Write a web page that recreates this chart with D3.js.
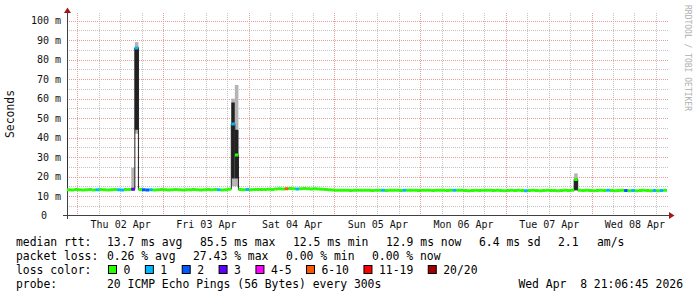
<!DOCTYPE html>
<html>
<head>
<meta charset="utf-8">
<script src="https://cdn.jsdelivr.net/npm/d3@7"></script>
<style>
  body { margin: 0; background: #fff; }
  svg { display: block; }
  text { font-family: "DejaVu Sans Mono", monospace; }
</style>
</head>
<body>
<svg id="chart"></svg>
<script>
// one week window, ending at the time the graph was made
const startTime = new Date("2026-04-01T21:06:45Z");
const endTime = new Date("2026-04-08T21:06:45Z");
// hourly consolidated rows; row 0 ends right where the window starts
const dataStart = new Date("2026-04-01T20:06:45Z");

// median rtt for each hour, ms
const medianMs = [
  55.0, 13.2, 13.1, 13.3, 13.2, 13.1, 13.2, 13.3, 13.1, 13.2,   // 0-9
  13.3, 13.2, 13.1, 13.2, 13.3, 13.2, 13.1, 13.3, 13.4, 13.5,   // 10-19
  86.0, 13.4, 13.2, 13.1, 13.2, 13.1, 13.2, 13.3, 13.2, 13.1,   // 20-29
  13.2, 13.3, 13.2, 13.1, 13.2, 13.2, 13.3, 13.2, 13.1, 13.2,   // 30-39
  13.3, 13.2, 13.3, 13.2, 13.1, 13.2, 13.5, 47.0, 31.0, 13.3,   // 40-49
  13.2, 13.3, 13.2, 13.4, 13.3, 13.4, 13.3, 13.5, 13.4, 13.6,   // 50-59
  13.7, 13.6, 13.7, 13.8, 13.7, 13.6, 13.7, 13.8, 13.7, 13.6,   // 60-69
  13.7, 13.6, 13.5, 13.4, 13.2, 13.1, 13.0, 12.9, 13.0, 12.9,   // 70-79
  12.8, 12.9, 13.0, 12.9, 12.9, 13.0, 12.8, 12.9, 13.0, 12.9,   // 80-89
  12.8, 12.9, 13.0, 12.9, 12.8, 12.9, 13.0, 12.9, 12.9, 12.8,   // 90-99
  12.9, 13.0, 12.9, 12.8, 12.9, 13.0, 12.9, 12.8, 12.9, 12.9,   // 100-109
  13.0, 12.9, 12.8, 12.7, 12.8, 12.9, 12.8, 12.9, 13.0, 12.9,   // 110-119
  12.8, 12.9, 12.8, 12.7, 12.8, 12.9, 12.8, 12.9, 12.8, 12.7,   // 120-129
  12.8, 12.9, 12.8, 12.7, 12.8, 12.9, 12.8, 12.8, 12.7, 12.8,   // 130-139
  12.9, 12.8, 12.9, 18.5, 12.9, 12.8, 12.9, 12.8, 12.7, 12.8,   // 140-149
  12.9, 12.8, 12.9, 12.8, 12.7, 12.8, 12.9, 12.8, 12.7, 12.8,   // 150-159
  12.7, 12.8, 12.9, 12.8, 12.7, 12.8, 12.7, 12.8, 12.9          // 160-168
];

// hours with lost pings: [row, pings lost out of 20]
const lossHours = [
  [0, 1], [9, 0.4], [15, 0.5], [16, 0.3], [19, 2.5], [20, 0.8],
  [22, 1.5], [23, 1.6], [24, 0.4], [43, 0.3], [47, 0.9], [51, 0.4],
  [62, 5.5], [65, 0.3], [89, 0.3], [95, 0.4], [109, 0.3], [129, 0.3],
  [152, 0.3], [157, 1.5], [159, 0.3], [165, 0.3], [167, 0.3]
];

// smoke where the pings spread out: [row, outer lo, outer hi, inner lo, inner hi], ms
const smokeRows = [
  [0, 13, 61, 20, 57],
  [19, 13, 24.5, 13, 14],
  [20, 42, 89, 44, 86.5],
  [47, 15, 60, 19, 58],
  [48, 15, 67, 19, 44],
  [143, 12.8, 21.6, 13, 19]
];

const lossLabels = ["0", "1", "2", "3", "4-5", "6-10", "11-19", "20/20"];
const lossUpTo = [0, 1, 2, 3, 5, 10, 19, 20];
const lossColors = ["#26ff00", "#00b8ff", "#0059ff", "#5e00ff", "#ff00ff", "#ff5500", "#ff0000", "#a00000"];

const yTicks = [0, 0.01, 0.02, 0.03, 0.04, 0.05, 0.06, 0.07, 0.08, 0.09, 0.1];
const yMinor = [0.005, 0.015, 0.025, 0.035, 0.045, 0.055, 0.065, 0.075, 0.085, 0.095];

const rttLegend = ["median rtt:", "13.7 ms avg", "85.5 ms max", "12.5 ms min", "12.9 ms now", "6.4 ms sd", "2.1", "am/s"];
const lossLegend = ["packet loss:", "0.26 % avg", "27.43 % max", "0.00 % min", "0.00 % now"];
const probeLegend = ["probe:", "20 ICMP Echo Pings (56 Bytes) every 300s"];
const stampText = "Wed Apr  8 21:06:45 2026";

const width = 697, height = 297;
const plotLeft = 67, plotRight = 667, plotBottom = 215.5, plotTop = 13;

const svg = d3.select("#chart").attr("width", width).attr("height", height);
svg.append("rect").attr("width", width).attr("height", height).attr("fill", "#fff");

const x = d3.scaleUtc().domain([startTime, endTime]).range([plotLeft, plotRight]);
const y = d3.scaleLinear().domain([0, 0.1]).range([plotBottom, 20.7]);

const px = v => Math.round(v) + 0.5;

// grid
const grid = svg.append("g");
const sixHours = d3.utcHour.every(6).range(startTime, endTime).filter(d => d.getUTCHours() !== 0);
const midnights = d3.utcDay.range(startTime, endTime);

grid.selectAll(".hminor").data(yMinor).enter().append("line")
  .attr("x1", plotLeft).attr("x2", plotRight + 1)
  .attr("y1", d => px(y(d))).attr("y2", d => px(y(d)))
  .attr("stroke", "#c4c4c4").attr("stroke-dasharray", "1,1");
grid.selectAll(".vminor").data(sixHours).enter().append("line")
  .attr("x1", d => px(x(d))).attr("x2", d => px(x(d)))
  .attr("y1", plotTop).attr("y2", plotBottom)
  .attr("stroke", "#c4c4c4").attr("stroke-dasharray", "1,1");
grid.selectAll(".hmajor").data(yTicks.slice(1)).enter().append("line")
  .attr("x1", plotLeft).attr("x2", plotRight + 1)
  .attr("y1", d => px(y(d))).attr("y2", d => px(y(d)))
  .attr("stroke", "#eb9a9a").attr("stroke-dasharray", "1,1");
grid.selectAll(".vmajor").data(midnights).enter().append("line")
  .attr("x1", d => px(x(d))).attr("x2", d => px(x(d)))
  .attr("y1", plotTop).attr("y2", plotBottom)
  .attr("stroke", "#eb9a9a").attr("stroke-dasharray", "1,1");

// axes lines and arrows
svg.append("line").attr("x1", 63).attr("x2", 669).attr("y1", 215.5).attr("y2", 215.5).attr("stroke", "#404040");
svg.append("line").attr("x1", 67.5).attr("x2", 67.5).attr("y1", 219).attr("y2", 12).attr("stroke", "#404040");
svg.append("path").attr("d", "M64,13 L71,13 L67.5,7.5 Z").attr("fill", "#a01818");
svg.append("path").attr("d", "M669,212 L669,219 L674.5,215.5 Z").attr("fill", "#a01818");

// rows of data
const hour = 3600e3;
const lossByRow = new Map(lossHours);
const rows = medianMs.map((v, i) => {
  const lost = lossByRow.get(i) || 0;
  return {
    t0: new Date(+dataStart + i * hour),
    t1: new Date(+dataStart + (i + 1) * hour),
    median: v / 1000,
    cls: lossUpTo.findIndex(u => lost <= u)
  };
});
const steps = rows.flatMap(r => [{ t: r.t0, v: r.median }, { t: r.t1, v: r.median }]);

svg.append("clipPath").attr("id", "plot")
  .append("rect").attr("x", plotLeft).attr("y", plotTop)
  .attr("width", plotRight - plotLeft).attr("height", plotBottom - plotTop);
const plot = svg.append("g").attr("clip-path", "url(#plot)");

// smoke
smokeRows.forEach(s => {
  const r = rows[s[0]];
  plot.append("rect")
    .attr("x", x(r.t0)).attr("width", x(r.t1) - x(r.t0))
    .attr("y", y(s[2] / 1000)).attr("height", y(s[1] / 1000) - y(s[2] / 1000))
    .attr("fill", "#b4b4b4");
  plot.append("rect")
    .attr("x", x(r.t0)).attr("width", x(r.t1) - x(r.t0))
    .attr("y", y(s[4] / 1000)).attr("height", y(s[3] / 1000) - y(s[4] / 1000))
    .attr("fill", "#222");
});

// median line with its jumps, then flat loss coloured pieces per row
plot.append("path")
  .attr("d", d3.line().x(d => x(d.t)).y(d => y(d.v))(steps))
  .attr("fill", "none").attr("stroke", "#202020").attr("stroke-width", 1);

const flat = d3.line().x(d => x(d.t)).y(d => y(d.v));
plot.selectAll(".loss").data(rows).enter().append("path")
  .attr("d", r => flat([{ t: r.t0, v: r.median }, { t: r.t1, v: r.median }]))
  .attr("fill", "none").attr("stroke", r => lossColors[r.cls]).attr("stroke-width", 3);

// tick labels
const yAxis = svg.append("g").attr("transform", `translate(${plotLeft},0)`)
  .call(d3.axisLeft(y).tickValues(yTicks).tickSize(0).tickPadding(6)
    .tickFormat(d => d === 0 ? "0" : Math.round(d * 1000) + " m"));
yAxis.select(".domain").remove();
yAxis.selectAll("text").attr("font-family", "DejaVu Sans Mono").attr("font-size", 10).attr("fill", "#111")
  .attr("dx", d => d === 0 ? -14 : 0);

const noons = d3.utcDay.range(d3.utcDay.floor(startTime), endTime)
  .map(d => d3.utcHour.offset(d, 12))
  .filter(d => d > startTime && d < endTime);
const xAxis = svg.append("g").attr("transform", "translate(0,215)")
  .call(d3.axisBottom(x).tickValues(noons).tickSize(0).tickPadding(6).tickFormat(d3.utcFormat("%a %d %b")));
xAxis.select(".domain").remove();
xAxis.selectAll("text").attr("font-family", "DejaVu Sans Mono").attr("font-size", 10).attr("fill", "#111");

// unit label and watermark
svg.append("text").attr("transform", "translate(14,114) rotate(-90)")
  .attr("text-anchor", "middle").attr("font-size", 11.4).attr("fill", "#111").text("Seconds");
svg.append("text").attr("transform", "translate(685,5) rotate(90)")
  .attr("font-size", 8).attr("fill", "#b0b0b0").text("RRDTOOL / TOBI OETIKER");

// legend
const legend = svg.append("g").attr("font-size", 11.4).attr("fill", "#000");
const putRow = (items, xs, base) => items.forEach((s, i) =>
  legend.append("text").attr("x", xs[i]).attr("y", base).attr("xml:space", "preserve")
    .style("white-space", "pre").text(s));

putRow(rttLegend, [16, 107, 200, 293, 386, 479, 558, 597], 246);
putRow(lossLegend, [16, 107, 193, 286, 372], 260);
putRow(["loss color:"], [16], 274);
putRow(probeLegend, [16, 107], 288);
legend.append("text").attr("x", 683).attr("y", 288).attr("text-anchor", "end")
  .attr("xml:space", "preserve").style("white-space", "pre").text(stampText);

const charW = 6.86;
let cx = 108.5;
lossLabels.forEach((lab, k) => {
  legend.append("rect").attr("x", cx).attr("y", 265.5).attr("width", 8).attr("height", 8)
    .attr("fill", lossColors[k]).attr("stroke", "#000").attr("stroke-width", 1);
  legend.append("text").attr("x", cx + 15).attr("y", 274).text(lab);
  cx += 15 + lab.length * charW + 15;
});
</script>
</body>
</html>
